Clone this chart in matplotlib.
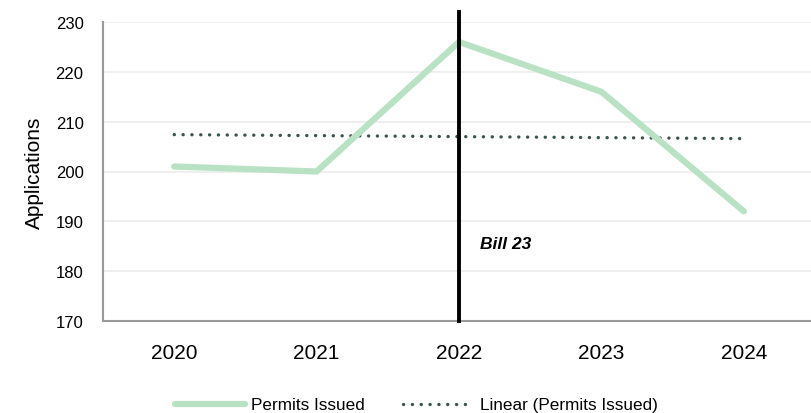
import matplotlib
matplotlib.use("Agg")
import matplotlib.pyplot as plt
import numpy as np

years = ["2020", "2021", "2022", "2023", "2024"]
permits = [201, 200, 226, 216, 192]
y_ticks = [170, 180, 190, 200, 210, 220, 230]
bill_year = "2022"
bill_label = "Bill 23"

plt.rcParams["font.family"] = ["Liberation Sans", "DejaVu Sans"]

fig = plt.figure(figsize=(8.12, 4.14), dpi=100)
ax = fig.add_axes([103 / 812, 1 - 322 / 414, 712 / 812, 299 / 414])

x = np.arange(len(years))
ax.plot(x, permits, color="#b8e2c3", lw=4.5, solid_capstyle="round",
        solid_joinstyle="miter", label="Permits Issued", zorder=3)

# least-squares trend line
slope, intercept = np.polyfit(x, permits, 1)
trend = slope * x + intercept
ax.plot(x, trend, color="#3b5548", lw=2.4, linestyle=(0, (0.05, 2.6)),
        dash_capstyle="round", label="Linear (Permits Issued)", zorder=2)

# policy marker
bi = years.index(bill_year)
ax.plot([bi, bi], [y_ticks[0], y_ticks[-1] + 2.0], color="black", lw=2.8,
        clip_on=False, zorder=4)
ax.text(bi + 0.15, 185.5, bill_label, fontsize=12.5, fontweight="bold",
        fontstyle="italic", ha="left", va="center")

ax.set_xlim(-0.5, len(years) - 0.5)
ax.set_ylim(y_ticks[0], y_ticks[-1])
ax.set_xticks(x)
ax.set_xticklabels(years, fontsize=15)
ax.set_yticks(y_ticks)
ax.tick_params(axis="y", labelsize=12, length=0, pad=14)
ax.tick_params(axis="x", length=0, pad=16)
ax.grid(axis="y", color="#ececec", lw=1.2)
ax.set_axisbelow(True)
for s in ["top", "right"]:
    ax.spines[s].set_visible(False)
for s in ["left", "bottom"]:
    ax.spines[s].set_color("#999999")
    ax.spines[s].set_linewidth(1.5)
ax.set_ylabel("Applications", fontsize=15, labelpad=8)

fig.legend(loc="center", bbox_to_anchor=(416 / 812, 1 - 406 / 414), ncol=2,
           frameon=False, fontsize=12.3, handlelength=4.1, columnspacing=2.2,
           handletextpad=0.4)

fig.savefig("out.png", dpi=100)
